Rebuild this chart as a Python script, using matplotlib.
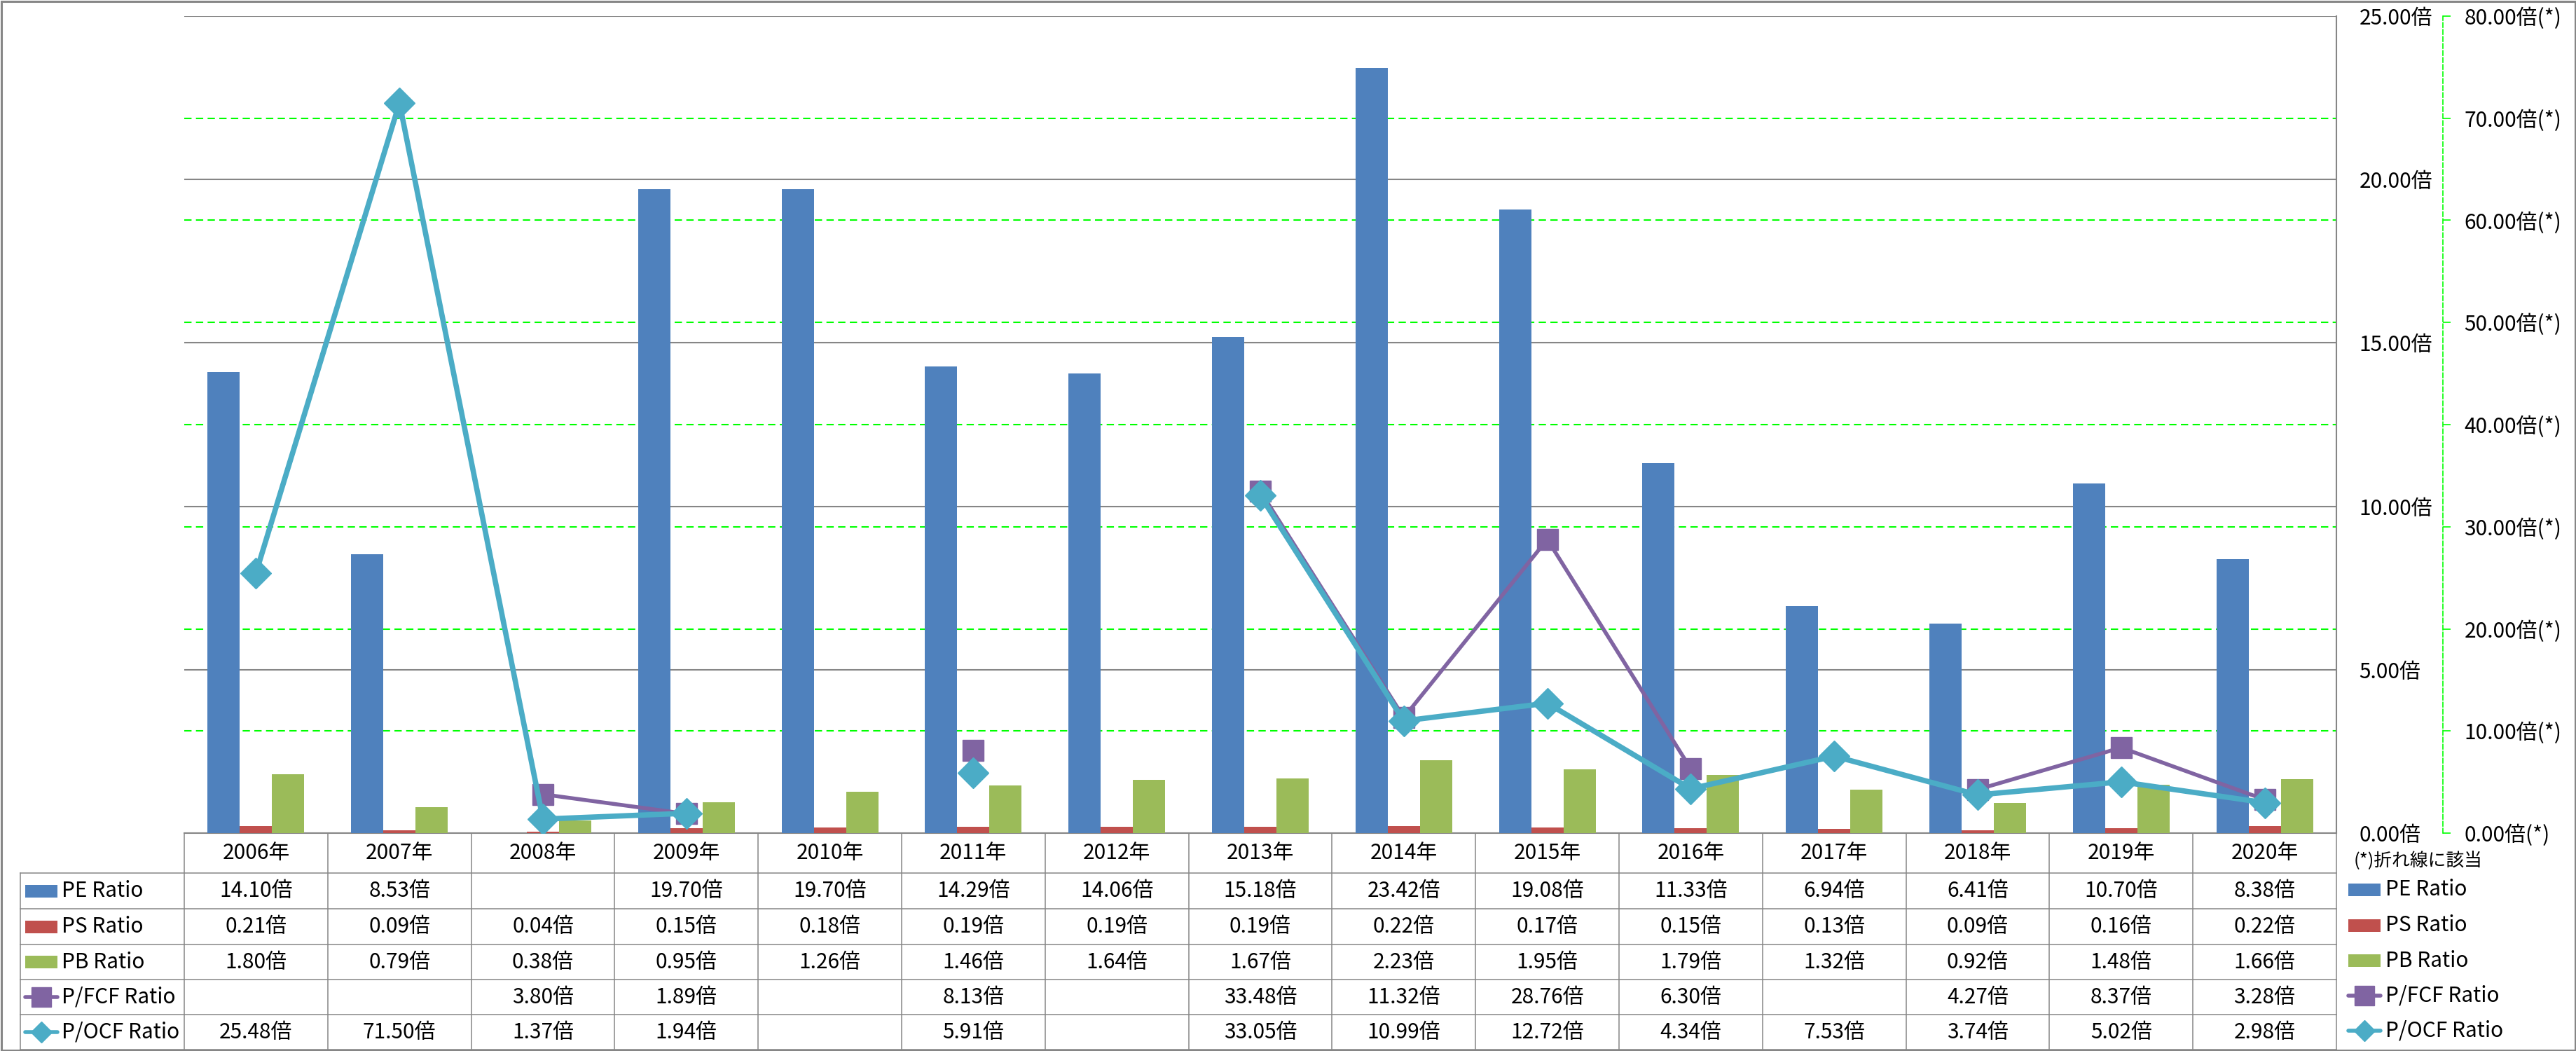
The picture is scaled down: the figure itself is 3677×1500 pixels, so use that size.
import numpy as np
import matplotlib
matplotlib.use('Agg')
import matplotlib.pyplot as plt
from matplotlib.patches import Rectangle
from matplotlib.transforms import blended_transform_factory

plt.rcParams['font.family'] = ['Noto Sans CJK JP', 'DejaVu Sans']

# データ
years = ['2006年', '2007年', '2008年', '2009年', '2010年', '2011年', '2012年', '2013年',
         '2014年', '2015年', '2016年', '2017年', '2018年', '2019年', '2020年']
nan = np.nan
pe_ratio = [14.10, 8.53, nan, 19.70, 19.70, 14.29, 14.06, 15.18, 23.42, 19.08, 11.33, 6.94, 6.41, 10.70, 8.38]
ps_ratio = [0.21, 0.09, 0.04, 0.15, 0.18, 0.19, 0.19, 0.19, 0.22, 0.17, 0.15, 0.13, 0.09, 0.16, 0.22]
pb_ratio = [1.80, 0.79, 0.38, 0.95, 1.26, 1.46, 1.64, 1.67, 2.23, 1.95, 1.79, 1.32, 0.92, 1.48, 1.66]
pfcf_ratio = [nan, nan, 3.80, 1.89, nan, 8.13, nan, 33.48, 11.32, 28.76, 6.30, nan, 4.27, 8.37, 3.28]
pocf_ratio = [25.48, 71.50, 1.37, 1.94, nan, 5.91, nan, 33.05, 10.99, 12.72, 4.34, 7.53, 3.74, 5.02, 2.98]

series = [
    ('PE Ratio', pe_ratio, '#4F81BD', 'bar'),
    ('PS Ratio', ps_ratio, '#C0504D', 'bar'),
    ('PB Ratio', pb_ratio, '#9BBB59', 'bar'),
    ('P/FCF Ratio', pfcf_ratio, '#8064A2', 's'),
    ('P/OCF Ratio', pocf_ratio, '#4BACC6', 'D'),
]

W, H = 3677, 1500
GRAY = '#868686'
GREEN = '#00FF00'
FS = 21.5

fig = plt.figure(figsize=(W / 100, H / 100), dpi=100)

# 表・枠用のオーバーレイ (ピクセル座標)
ov = fig.add_axes([0, 0, 1, 1])
ov.set_xlim(0, W)
ov.set_ylim(H, 0)
ov.axis('off')

L, R, T, B = 263, 3335, 23, 1189
ax = fig.add_axes([L / W, 1 - B / H, (R - L) / W, (B - T) / H])
x = np.arange(len(years))
bw = 0.2246
for i, (name, vals, col, kind) in enumerate(series[:3]):
    ax.bar(x + (i - 1) * bw, vals, bw, color=col, zorder=3)
ax.set_xlim(-0.5, len(years) - 0.5)
ax.set_ylim(0, 25)
ax.set_xticks([])
ax.set_yticks(np.arange(0, 26, 5))
ax.grid(axis='y', color=GRAY, lw=1.5, zorder=1)
ax.set_axisbelow(True)
ax.patch.set_alpha(0)

ax2 = ax.twinx()
ax.yaxis.tick_right()
ax.yaxis.set_major_formatter(lambda v, p: f'{v:.2f}倍')
ax.tick_params(axis='y', length=0, pad=23.5, labelsize=FS)
for s in ['top', 'left']:
    ax.spines[s].set_visible(False)
for s in ['right', 'bottom']:
    ax.spines[s].set_color(GRAY)
    ax.spines[s].set_linewidth(1.5)

ax2.set_ylim(0, 80)
ax2.set_yticks(np.arange(0, 81, 10))
ax2.yaxis.set_major_formatter(lambda v, p: f'{v:.2f}倍(*)')
for s in ['top', 'left', 'bottom']:
    ax2.spines[s].set_visible(False)
ax2.spines['right'].set_position(('outward', 152 * 0.72))
ax2.spines['right'].set_color(GREEN)
ax2.spines['right'].set_linestyle((0, (4, 2)))
ax2.spines['right'].set_linewidth(1.2)
ax2.tick_params(axis='y', length=8, width=1.2, color=GREEN, pad=14, labelsize=FS)

# 折れ線の目盛線 (棒の後ろ)
tr = blended_transform_factory(ax.transAxes, ax2.transData)
for v in np.arange(10, 80, 10):
    ax.plot([0, 1], [v, v], transform=tr, color=GREEN, lw=1.5, ls=(0, (5, 3)), zorder=2)

for name, vals, col, kind in series[3:]:
    lw = 4 if kind == 's' else 5.5
    ax2.plot(x, vals, color=col, lw=lw, marker=kind, ms=22, mec=col, mfc=col, zorder=4)

# データテーブル
colw = (R - L) / len(years)
rows = [1189, 1246, 1297, 1348, 1398, 1448, 1498]
KL = 29
tl = dict(color=GRAY, lw=1.1)
for r in rows[1:]:
    ov.plot([KL, R], [r, r], **tl)
ov.plot([KL, KL], [rows[1], rows[-1]], **tl)
for j in range(len(years) + 1):
    xx = L + j * colw
    ov.plot([xx, xx], [rows[0], rows[-1]], **tl)

for j, yr in enumerate(years):
    ov.text(L + (j + 0.5) * colw, (rows[0] + rows[1]) / 2, yr, ha='center', va='center', fontsize=FS)


def draw_key(x0, yc, col, kind, ms_s=20, ms_d=15):
    if kind == 'bar':
        ov.add_patch(Rectangle((x0, yc - 9), 46, 18, color=col, lw=0))
    else:
        ov.plot([x0, x0 + 46], [yc, yc], color=col, lw=4, solid_capstyle='round')
        ov.plot([x0 + 23], [yc], marker=kind, ms=ms_s if kind == 's' else ms_d, color=col)


for i, (name, vals, col, kind) in enumerate(series):
    yc = (rows[i + 1] + rows[i + 2]) / 2
    draw_key(36, yc, col, kind)
    ov.text(88, yc, name, ha='left', va='center', fontsize=FS)
    for j, v in enumerate(vals):
        if not np.isnan(v):
            ov.text(L + (j + 0.5) * colw, yc, f'{v:.2f}倍', ha='center', va='center', fontsize=FS)
    # 右側の凡例
    draw_key(3352, yc - 2, col, kind)
    ov.text(3405, yc - 2, name, ha='left', va='center', fontsize=FS)

ov.text(3360, 1228, '(*)折れ線に該当', ha='left', va='center', fontsize=18.5)

# 外枠
ov.add_patch(Rectangle((1.5, 1.5), W - 3, H - 3, fill=False, ec=GRAY, lw=2.2))

fig.savefig('out.png', dpi=100)
